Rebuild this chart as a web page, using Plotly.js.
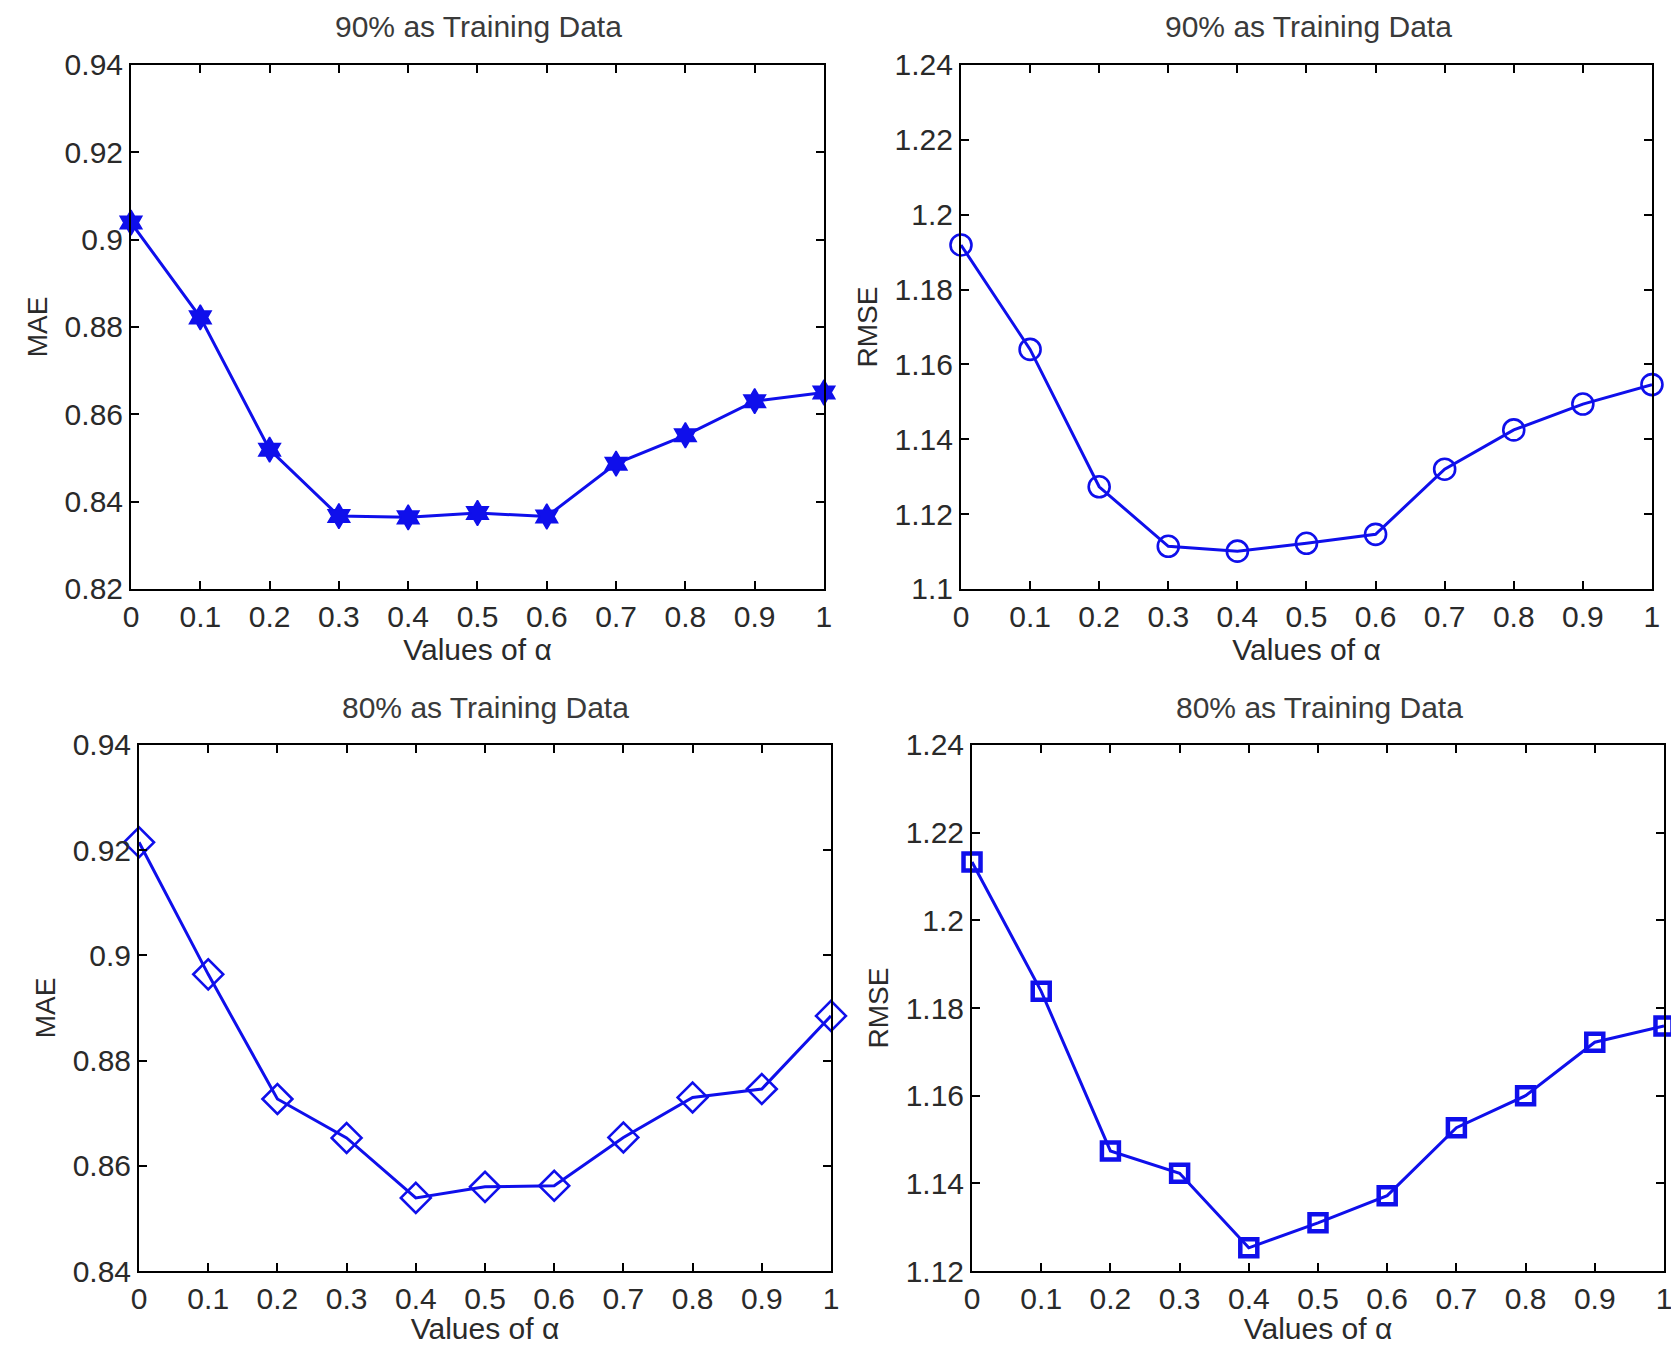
<!DOCTYPE html>
<html>
<head>
<meta charset="utf-8">
<script src="https://cdn.plot.ly/plotly-3.0.1.min.js"></script>
<style>html,body{margin:0;padding:0;background:#fff;}#chart{width:1671px;height:1345px;}</style>
</head>
<body>
<div id="chart"></div>
<script>
// Data
const alphaValues = [0, 0.1, 0.2, 0.3, 0.4, 0.5, 0.6, 0.7, 0.8, 0.9, 1];
const mae90  = [0.9039, 0.8822, 0.8519, 0.8367, 0.8364, 0.8374, 0.8366, 0.8487, 0.8552, 0.8630, 0.8650];
const rmse90 = [1.1919, 1.1640, 1.1273, 1.1114, 1.1101, 1.1122, 1.1146, 1.1320, 1.1425, 1.1494, 1.1546];
const mae80  = [0.9215, 0.8964, 0.8727, 0.8653, 0.8539, 0.8560, 0.8562, 0.8654, 0.8730, 0.8746, 0.8885];
const rmse80 = [1.2133, 1.1838, 1.1474, 1.1423, 1.1253, 1.1310, 1.1372, 1.1527, 1.1600, 1.1722, 1.1759];

const panelTitles = ["90% as Training Data", "90% as Training Data", "80% as Training Data", "80% as Training Data"];
const yTitles = ["MAE", "RMSE", "MAE", "RMSE"];
const xTitle = "Values of α";

const xTickVals = [0, 0.1, 0.2, 0.3, 0.4, 0.5, 0.6, 0.7, 0.8, 0.9, 1];
const xTickText = ["0", "0.1", "0.2", "0.3", "0.4", "0.5", "0.6", "0.7", "0.8", "0.9", "1"];
const yTickVals1 = [0.82, 0.84, 0.86, 0.88, 0.90, 0.92, 0.94];
const yTickText1 = ["0.82", "0.84", "0.86", "0.88", "0.9", "0.92", "0.94"];
const yTickVals2 = [1.10, 1.12, 1.14, 1.16, 1.18, 1.20, 1.22, 1.24];
const yTickText2 = ["1.1", "1.12", "1.14", "1.16", "1.18", "1.2", "1.22", "1.24"];
const yTickVals3 = [0.84, 0.86, 0.88, 0.90, 0.92, 0.94];
const yTickText3 = ["0.84", "0.86", "0.88", "0.9", "0.92", "0.94"];
const yTickVals4 = [1.12, 1.14, 1.16, 1.18, 1.20, 1.22, 1.24];
const yTickText4 = ["1.12", "1.14", "1.16", "1.18", "1.2", "1.22", "1.24"];

const BLUE = "rgb(15,15,235)";
const FONT = "Liberation Sans, Arial, sans-serif";
const TXT = "#2a2a2a";

function trace(y, xa, ya, symbol, size, lw) {
  return {
    x: alphaValues, y: y, xaxis: xa, yaxis: ya, type: "scatter", mode: "lines+markers",
    line: {color: BLUE, width: 3},
    marker: {symbol: symbol, size: size, color: BLUE, line: {color: BLUE, width: lw}},
    cliponaxis: false, showlegend: false, hoverinfo: "x+y"
  };
}

const data = [
  trace(mae90,  "x",  "y",  "hexagram", 19, 1.5),
  trace(rmse90, "x2", "y2", "circle-open", 21, 2.6),
  trace(mae80,  "x3", "y3", "diamond-open", 23, 2.6),
  trace(rmse80, "x4", "y4", "square-open", 17, 4.5)
];

function xax(domain, anchor) {
  return {
    domain: domain, anchor: anchor, range: [0, 1], tickvals: xTickVals, ticktext: xTickText,
    ticks: "inside", ticklen: 8, tickwidth: 2, tickcolor: "#000", mirror: "ticks",
    showline: true, linecolor: "#000", linewidth: 2, showgrid: false, zeroline: false,
    tickfont: {family: FONT, size: 30, color: TXT}, ticklabeloverflow: "allow",
    title: {text: xTitle, font: {family: FONT, size: 30, color: TXT}, standoff: 1},
    automargin: false
  };
}
function yax(domain, anchor, range, vals, text, title) {
  return {
    domain: domain, anchor: anchor, range: range, tickvals: vals, ticktext: text,
    ticks: "inside", ticklen: 8, tickwidth: 2, tickcolor: "#000", mirror: "ticks",
    showline: true, linecolor: "#000", linewidth: 2, showgrid: false, zeroline: false,
    tickfont: {family: FONT, size: 30, color: TXT},
    title: {text: title, font: {family: FONT, size: 28, color: TXT}, standoff: 9},
    automargin: false
  };
}

const topY = [0.5621, 0.9517];
const botY = [0.0550, 0.4461];

const layout = {
  width: 1671, height: 1345,
  margin: {l: 0, r: 0, t: 0, b: 0},
  paper_bgcolor: "#fff", plot_bgcolor: "#fff",
  xaxis:  xax([0.0784, 0.4931], "y"),
  yaxis:  yax(topY, "x",  [0.82, 0.94], yTickVals1, yTickText1, yTitles[0]),
  xaxis2: xax([0.5751, 0.9886], "y2"),
  yaxis2: yax(topY, "x2", [1.10, 1.24], yTickVals2, yTickText2, yTitles[1]),
  xaxis3: xax([0.0832, 0.4973], "y3"),
  yaxis3: yax(botY, "x3", [0.84, 0.94], yTickVals3, yTickText3, yTitles[2]),
  xaxis4: xax([0.5817, 0.9958], "y4"),
  yaxis4: yax(botY, "x4", [1.12, 1.24], yTickVals4, yTickText4, yTitles[3]),
  annotations: [
    {text: panelTitles[0], xref: "paper", yref: "paper", x: 0.2865, y: 0.980},
    {text: panelTitles[1], xref: "paper", yref: "paper", x: 0.7830, y: 0.980},
    {text: panelTitles[2], xref: "paper", yref: "paper", x: 0.2908, y: 0.4743},
    {text: panelTitles[3], xref: "paper", yref: "paper", x: 0.7895, y: 0.4743}
  ].map(a => Object.assign(a, {showarrow: false, xanchor: "center", yanchor: "middle",
        font: {family: FONT, size: 30, color: "#3a3a3a"}}))
};

Plotly.newPlot("chart", data, layout, {displayModeBar: false, staticPlot: true});
</script>
</body>
</html>
